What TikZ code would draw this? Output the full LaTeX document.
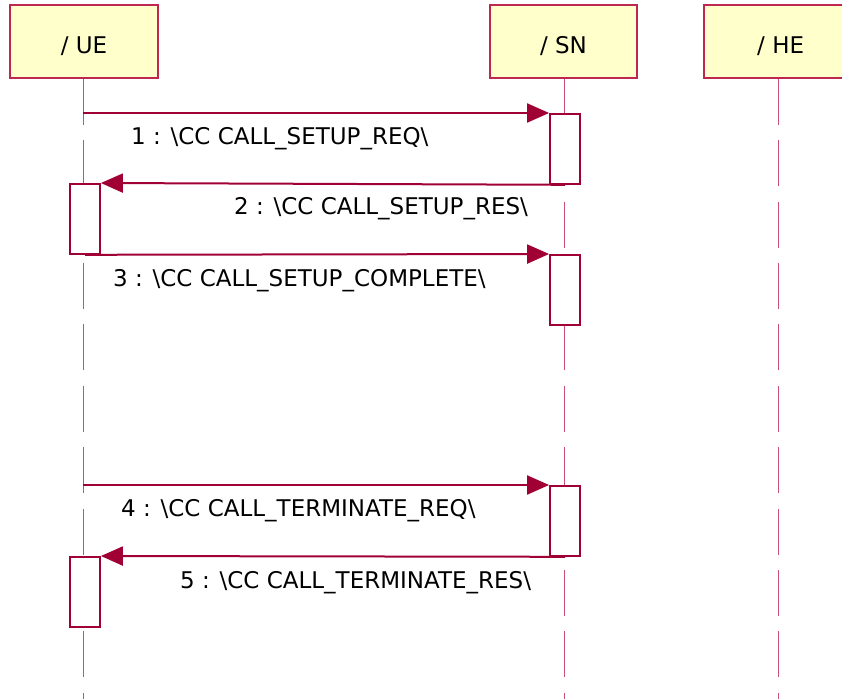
\documentclass[tikz,border=0pt]{standalone}
\usepackage{fontspec}
\setmainfont{DejaVu Sans}
\usetikzlibrary{arrows.meta}
\definecolor{hdrfill}{RGB}{255,255,204}
\definecolor{hdrline}{RGB}{190,40,80}
\definecolor{msgline}{RGB}{160,0,52}
\definecolor{lifecol}{RGB}{200,80,120}
\begin{document}
\begin{tikzpicture}[x=1pt,y=-1pt,
  header/.style={draw=hdrline, fill=hdrfill, line width=1.5pt, minimum height=73pt, inner sep=0pt, text height=23.6pt, text depth=0pt, font=\fontsize{23}{27}\selectfont},
  life/.style={draw=lifecol, line width=1pt, dash pattern=on 46pt off 15.4pt},
  actbox/.style={draw=msgline, fill=white, line width=1.8pt, minimum width=30pt, minimum height=70pt, inner sep=0pt, anchor=north},
  msg/.style={draw=msgline, line width=2pt, -{Triangle[length=22pt,width=19pt]}},
  lbl/.style={anchor=base west, inner sep=0pt, font=\fontsize{23}{27}\selectfont}]
\clip (0,0) rectangle (842,699);
\useasboundingbox (0,0) rectangle (842,699);
% headers
\node[header, minimum width=148pt] (ue) at (84,41.5) {/ UE};
\node[header, minimum width=147pt] (sn) at (563.5,41.5) {/ SN};
\node[header, minimum width=160pt, text width=146pt, align=left] (he) at (784,41.5) {\hspace*{46pt}/ HE};
% lifelines
\coordinate (ueend) at (83,699);
\coordinate (snend) at (564,699);
\coordinate (heend) at (778,699);
\draw[life] (ue.south -| ueend) -- (ueend);
\draw[life] (sn.south -| snend) -- (snend);
\draw[life] (he.south -| heend) -- (heend);
% activation boxes
\node[actbox] (sa1) at (565,113) {};
\node[actbox] (ua1) at (85,183) {};
\node[actbox] (sa2) at (565,254) {};
\node[actbox] (sa3) at (565,485) {};
\node[actbox] (ua2) at (85,556) {};
% message endpoints
\coordinate (m1s) at (83,113);
\coordinate (m4s) at (83,485);
% messages
\draw[msg] (m1s) -- (sa1.north west);
\draw[msg] (sa1.south) -- (ua1.north east);
\draw[msg] (ua1.south) -- (sa2.north west);
\draw[msg] (m4s) -- (sa3.north west);
\draw[msg] (sa3.south) -- (ua2.north east);
% labels
\node[lbl] (l1) at (131,144) {1 : \textbackslash CC CALL\_SETUP\_REQ\textbackslash};
\node[lbl] (l2) at (234,214) {2 : \textbackslash CC CALL\_SETUP\_RES\textbackslash};
\node[lbl] (l3) at (113,286) {3 : \textbackslash CC CALL\_SETUP\_COMPLETE\textbackslash};
\node[lbl] (l4) at (121,516) {4 : \textbackslash CC CALL\_TERMINATE\_REQ\textbackslash};
\node[lbl] (l5) at (180,588) {5 : \textbackslash CC CALL\_TERMINATE\_RES\textbackslash};
\end{tikzpicture}
\end{document}
